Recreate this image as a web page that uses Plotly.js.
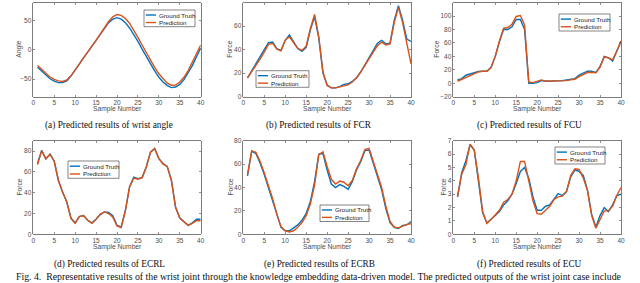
<!DOCTYPE html>
<html><head><meta charset="utf-8">
<script src="https://cdn.plot.ly/plotly-3.0.1.min.js"></script>
<style>html,body{margin:0;padding:0;background:#fff}#chart{width:640px;height:283px}</style>
</head><body><div id="chart"></div>
<script>
const sampleNumber = [1,2,3,4,5,6,7,8,9,10,11,12,13,14,15,16,17,18,19,20,21,22,23,24,25,26,27,28,29,30,31,32,33,34,35,36,37,38,39,40];
const xTickVals = [0,5,10,15,20,25,30,35,40];

const angleTruth = [-30,-37,-44,-49.5,-53.5,-56,-56,-53,-45,-34,-24,-14,-4,6,16,27,37,46,52,54.5,52,46,37,26,14,1,-12,-25,-36,-47,-55,-61,-64.5,-63.5,-59,-51,-40,-27,-12,3];
const anglePred  = [-27,-34,-41,-46.5,-50.5,-53,-54,-51.5,-44.5,-34,-24,-14,-4,6,16,27,38,48,56,60,58.5,53,45,34,21,8,-5,-18,-30,-41,-50,-57,-60.5,-60,-55,-47,-35.5,-22,-6.5,8];

const fcrTruth = [16,22,28,34,40,46,46.5,41,39.5,48,52.5,47,41,38.5,42,57,68,50,20,10,7.5,7.5,8.5,10.5,11,13,16,21,27,33,40,45.5,48,45,45.5,65,77.5,65,49,47];
const fcrPred  = [16,21,26,32,38,44.5,45.5,40.5,39,48,51,46.5,41,39.5,43,58,70,51,21,9.5,7.5,7.5,8.5,9.5,10,12.5,16,21,27,32,38,43.5,46.5,44,45,63,76,63,45,28];

const fcuTruth = [5,7,12,14,16,17.5,18,18,24,40,62,80,80,84,95,95,80,0,0,1,4,3,3,3.5,3.5,4,5,6,7,12,15,18,18,16,25,40,38,33,48,62];
const fcuPred  = [3,6,9,12,15,17,18,18,23,40,63,82,83,88,99.5,101,87,2,1,3,5,3,3,3,3,3.5,4,5,6,10,13,16,16.5,15.5,24,39,38,35,48,63];

const ecrlTruth = [68,80.7,72.7,77,70.5,52,40.7,31,15.7,11,17,18,13.5,11,14.5,19,21.5,21,18,8.6,7,23,45.5,55,53.5,54.5,64.7,79,82.3,72.7,68,65.3,52,26,15.7,11.9,8.6,11,14.5,14.5];
const ecrlPred  = [67,80.5,72.5,77,70,51.5,40.5,31,15,10.5,17,18,13.5,10.5,14.5,19.5,21.5,20,16.5,8,6.5,22.5,45.5,54,53,54.5,64.7,79,82.5,73,67.5,65.3,51.5,26,15.7,11.9,8.6,10.5,13,13];

const ecrbTruth = [50,71,69,61,51,40,29,16,6,3,3,5.5,8,12,18,28,45,68.5,69,55,43,40,42.5,41,38.5,45,55,62,71.5,72,60,48,38,22,10,6,5,7.5,8,11];
const ecrbPred  = [51,71.5,70,62.5,52.5,41.5,30.5,17,6.5,3,2,3,6,10,16,26,42,68,70.5,58,47,43,45.5,44.5,41.5,46,56,63,72.5,73.5,62,50,40,24,11,6,5.5,7,8.5,9];

const ecuTruth = [2.8,4.6,5.5,6.7,6.3,4.0,1.6,0.85,1.1,1.4,1.7,2.2,2.5,3.0,3.8,4.7,5.0,4.2,2.8,1.8,1.8,2.1,2.2,2.6,3.05,2.9,3.2,4.3,4.8,4.7,4.4,3.3,1.5,0.55,1.4,2.0,1.7,2.2,2.9,3.0];
const ecuPred  = [2.8,4.5,5.2,6.75,6.3,4.2,1.7,0.8,1.1,1.45,1.8,2.4,2.6,3.0,4.0,5.45,5.45,4.0,2.5,1.55,1.5,1.8,2.1,2.6,2.8,2.85,3.2,4.4,4.9,4.85,4.2,3.3,1.4,0.45,1.1,1.75,1.75,2.1,2.9,3.5];

const seriesNames = ['Ground Truth','Prediction'];
const captions = ['(a) Predicted results of wrist angle','(b) Predicted results of FCR','(c) Predicted results of FCU',
                  '(d) Predicted results of ECRL','(e) Predicted results of ECRB','(f) Predicted results of ECU'];
const yTitles = ['Angle','Force','Force','Force','Force','Force'];
const figText = 'Fig. 4.  Representative results of the wrist joint through the knowledge embedding data-driven model. The predicted outputs of the wrist joint case include';

const W = 640, H = 283;
const px = v => v / W, py = v => 1 - v / H;
const BLUE = '#0072BD', ORANGE = '#D95319';

const panels = [
  {t: angleTruth, p: anglePred, range: [-80,80], dtick: 50, col: 0, row: 0, leg: [144,10,195,26.7]},
  {t: fcrTruth, p: fcrPred, range: [0,80], dtick: 20, col: 1, row: 0, leg: [256,70.7,309,87.3]},
  {t: fcuTruth, p: fcuPred, range: [-20,120], dtick: 20, col: 2, row: 0, leg: [559,14,610,31]},
  {t: ecrlTruth, p: ecrlPred, range: [0,90], dtick: 20, col: 0, row: 1, leg: [68,161,119,178.3]},
  {t: ecrbTruth, p: ecrbPred, range: [0,80], dtick: 20, col: 1, row: 1, leg: [320,205,369,221.5]},
  {t: ecuTruth, p: ecuPred, range: [0,7], dtick: 1, col: 2, row: 1, leg: [555,147,605,164]}
];
const colsPx = [[33.3,200.7],[243.3,411],[453.3,621]];
const rowsPx = [[2.7,96.7],[140.7,234.3]];
const yTitleX = [[19,230,437],[19,230,443]];

const traces = [];
const layout = {
  width: W, height: H, margin: {l:0,r:0,t:0,b:0},
  paper_bgcolor: '#fff', plot_bgcolor: '#fff', showlegend: false,
  font: {family: 'Liberation Sans, Arial, sans-serif', size: 6.5, color: '#4d4d4d'},
  shapes: [], annotations: []
};

panels.forEach((pn, i) => {
  const k = i + 1;
  const xa = 'x' + (k === 1 ? '' : k), ya = 'y' + (k === 1 ? '' : k);
  const xName = 'xaxis' + (k === 1 ? '' : k), yName = 'yaxis' + (k === 1 ? '' : k);
  const cx = colsPx[pn.col], ry = rowsPx[pn.row];
  traces.push({x: sampleNumber, y: pn.t, name: seriesNames[0], type: 'scatter', mode: 'lines',
               line: {color: BLUE, width: 1.4}, xaxis: xa, yaxis: ya, hoverinfo: 'skip'});
  traces.push({x: sampleNumber, y: pn.p, name: seriesNames[1], type: 'scatter', mode: 'lines',
               line: {color: ORANGE, width: 1.4}, xaxis: xa, yaxis: ya, hoverinfo: 'skip'});
  const common = {showline: true, linecolor: '#444', linewidth: 0.7, mirror: 'ticks', ticks: 'inside',
                  ticklen: 2, tickwidth: 0.6, tickcolor: '#444', showgrid: false, zeroline: false,
                  tickfont: {size: 6.5, color: '#4d4d4d'}, fixedrange: true};
  layout[xName] = Object.assign({}, common, {domain: [px(cx[0]), px(cx[1])], anchor: ya, range: [0,40],
                  tickvals: xTickVals});
  layout[yName] = Object.assign({}, common, {domain: [py(ry[1]), py(ry[0])], anchor: xa, range: pn.range,
                  tick0: 0, dtick: pn.dtick});
  layout.annotations.push({text: 'Sample Number', xref: 'paper', yref: 'paper', x: px((cx[0]+cx[1])/2),
      y: py(ry[1] + 12.5), xanchor: 'center', yanchor: 'middle', showarrow: false,
      font: {size: 6.7, color: '#4d4d4d'}});
  layout.annotations.push({text: yTitles[i], xref: 'paper', yref: 'paper', x: px(yTitleX[pn.row][pn.col]),
      y: py((ry[0]+ry[1])/2), xanchor: 'center', yanchor: 'middle', textangle: -90, showarrow: false,
      font: {size: 6.7, color: '#4d4d4d'}});
  layout.annotations.push({text: captions[i], xref: 'paper', yref: 'paper', x: px((cx[0]+cx[1])/2 - 8),
      y: py(pn.row === 0 ? 125 : 264.3), xanchor: 'center', yanchor: 'middle', showarrow: false,
      font: {family: 'Liberation Serif, Times New Roman, serif', size: 9.3, color: '#111'}});
  const [l, t, r, b] = pn.leg;
  layout.shapes.push({type: 'rect', xref: 'paper', yref: 'paper', x0: px(l), x1: px(r), y0: py(b), y1: py(t),
      line: {color: '#333', width: 0.6}, fillcolor: '#fff', layer: 'above'});
  const rows = [t + (b - t) * 0.3, t + (b - t) * 0.75];
  [BLUE, ORANGE].forEach((c, j) => {
    layout.shapes.push({type: 'line', xref: 'paper', yref: 'paper', x0: px(l + 1.8), x1: px(l + 12),
        y0: py(rows[j]), y1: py(rows[j]), line: {color: c, width: 1.4}, layer: 'above'});
    layout.annotations.push({text: seriesNames[j], xref: 'paper', yref: 'paper', x: px(l + 12.8), y: py(rows[j]),
        xanchor: 'left', yanchor: 'middle', showarrow: false, font: {size: 6.2, color: '#222'}});
  });
});

layout.annotations.push({text: figText, xref: 'paper', yref: 'paper', x: px(319), y: py(276.5),
    xanchor: 'center', yanchor: 'middle', showarrow: false,
    font: {family: 'Liberation Serif, Times New Roman, serif', size: 9.8, color: '#111'}});

Plotly.newPlot('chart', traces, layout, {staticPlot: true, displayModeBar: false});
</script></body></html>
